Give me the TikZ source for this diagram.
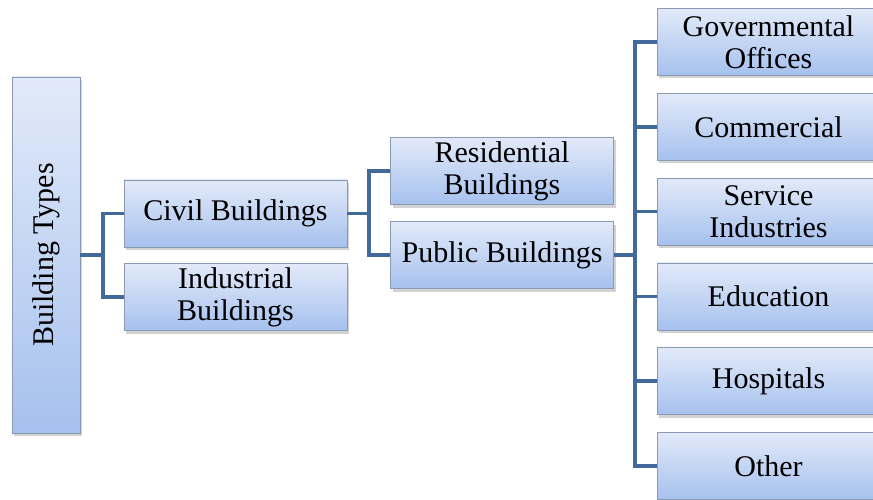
\documentclass[tikz,border=0pt]{standalone}
\usepackage{fontspec}
\setmainfont{Liberation Serif}
\usepackage{graphicx}
\usetikzlibrary{shadows}

\definecolor{boxtop}{HTML}{E2EAF9}
\definecolor{boxbot}{HTML}{A6C1EE}
\definecolor{boxline}{HTML}{8A9AB4}
\definecolor{linkblue}{HTML}{41699A}

\begin{document}
\begin{tikzpicture}[x=1pt,y=-1pt,font=\fontsize{30}{32}\selectfont,
  box/.style={draw=boxline, line width=0.8pt, top color=boxtop, bottom color=boxbot,
    minimum width=223pt, minimum height=67pt, align=center, inner sep=2pt,
    drop shadow={shadow xshift=2pt,shadow yshift=-3pt,opacity=0.35}},
  link/.style={draw=linkblue, line width=3.5pt}]
\useasboundingbox (0,0) rectangle (873,500);

% left part
\node[box, minimum width=68pt, minimum height=356pt] (types) at (46,255) {\rotatebox{90}{Building Types}};
\node[box] (civil) at (235.5,213.5) {Civil Buildings};
\node[box] (industrial) at (235.5,297) {Industrial\\Buildings};

% middle part
\node[box] (residential) at (502,171) {Residential\\Buildings};
\node[box] (public) at (502,255) {Public Buildings};

% right column
\foreach \name/\txt [count=\i] in {gov/Governmental\\Offices, comm/Commercial,
    serv/Service\\Industries, edu/Education, hosp/Hospitals, other/Other}
  \node[box] (\name) at (768.5,{42+84.8*(\i-1)}) {\txt};

% connectors
\coordinate (j1) at (103,255);
\coordinate (j2) at (369,213.5);
\coordinate (j3) at (635,255);

\draw[link] (types.east) -- (j1) |- (civil.west);
\draw[link] (j1) |- (industrial.west);
\draw[link] (civil.east) -- (j2) |- (residential.west);
\draw[link] (j2) |- (public.west);
\draw[link] (public.east) -- (j3);
\foreach \name in {gov,comm,serv,edu,hosp,other}
  \draw[link] (j3) |- (\name.west);

\end{tikzpicture}
\end{document}
